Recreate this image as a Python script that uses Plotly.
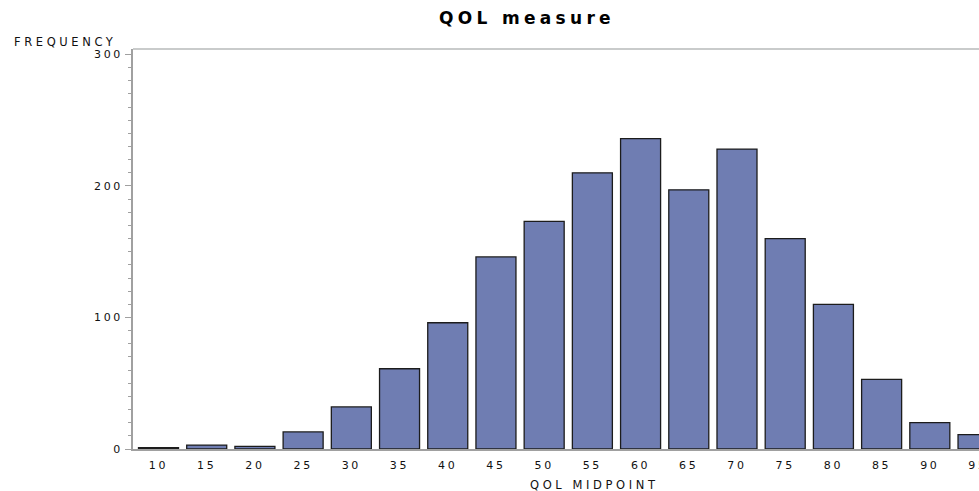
import plotly.graph_objects as go

# QOL score histogram: bin midpoints and counts
midpoints = [10, 15, 20, 25, 30, 35, 40, 45, 50, 55, 60, 65, 70, 75, 80, 85, 90, 95]
frequency = [1, 3, 2, 13, 32, 61, 96, 146, 173, 210, 236, 197, 228, 160, 110, 53, 20, 11]
y_ticks = [0, 100, 200, 300]

FONT = "DejaVu Sans"


def spaced(text, px):
    """Wrap text in a span with extra letter spacing."""
    return f'<span style="letter-spacing:{px}px">{text}</span>'


fig = go.Figure()
fig.add_trace(go.Bar(
    x=midpoints,
    y=frequency,
    width=4.15,
    marker=dict(color="#6F7DB2", line=dict(color="#1c1c1c", width=1.3)),
    hoverinfo="x+y",
))

fig.update_layout(
    template="none",
    width=979,
    height=491,
    margin=dict(l=133, r=0, t=49, b=42),
    paper_bgcolor="white",
    plot_bgcolor="white",
    showlegend=False,
    font=dict(family=FONT, size=11, color="#111111"),
    title=dict(
        text=spaced("QOL measure", 4.3),
        font=dict(family=FONT, size=17, color="#000000", weight="bold"),
        x=527 / 979, xanchor="center", xref="container",
        y=1 - 18 / 491, yanchor="middle", yref="container",
    ),
    xaxis=dict(
        range=[7.355, 95.10],
        tickvals=midpoints,
        ticktext=[spaced(v, 2.7) for v in midpoints],
        ticks="",
        showgrid=False,
        zeroline=False,
        showline=True,
        linecolor="#A0A0A0",
        linewidth=1.5,
        automargin=False,
        ticklabelstandoff=5,
        ticklabeloverflow="allow",
    ),
    yaxis=dict(
        range=[0, 304.1],
        tickvals=y_ticks,
        ticktext=[spaced(v, 2.7) for v in y_ticks],
        ticks="outside",
        ticklen=6,
        tickwidth=1,
        tickcolor="#A0A0A0",
        minor=dict(dtick=10, ticks="outside", ticklen=3, tickcolor="#A0A0A0", tickwidth=1),
        showgrid=False,
        zeroline=False,
        showline=True,
        linecolor="#A0A0A0",
        linewidth=1.5,
        automargin=False,
        ticklabeloverflow="allow",
    ),
    annotations=[
        dict(text=spaced("FREQUENCY", 3.6), xref="paper", yref="paper",
             x=(12 - 133) / 846, y=1 + (49 - 42) / 400,
             xanchor="left", yanchor="middle", showarrow=False,
             font=dict(family=FONT, size=11.5, color="#111111")),
        dict(text=spaced("QOL MIDPOINT", 3.6), xref="paper", yref="paper",
             x=(528 - 133) / 846, y=-(484.5 - 449) / 400,
             xanchor="left", yanchor="middle", showarrow=False,
             font=dict(family=FONT, size=11.5, color="#111111")),
    ],
    shapes=[
        dict(type="line", xref="paper", yref="paper", x0=0, x1=1, y0=1, y1=1,
             line=dict(color="#C9CBCB", width=2)),
    ],
)

fig.write_html("out.html")
